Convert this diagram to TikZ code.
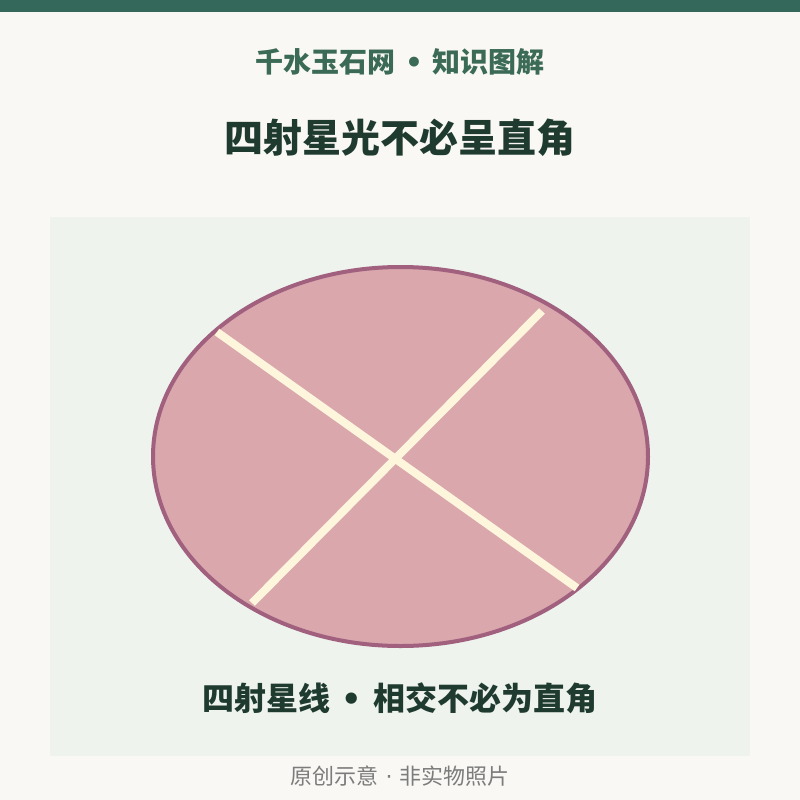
\documentclass[tikz,border=0pt]{standalone}
\usepackage{fontspec}
\setmainfont{Noto Sans CJK SC}
\newfontfamily\cjk{Noto Sans CJK SC}
\newfontfamily\latin{DejaVu Sans}
\newcommand{\sepdot}[1]{{\latin\ #1\ }}
\definecolor{pagebg}{HTML}{F9F8F4}
\definecolor{topbar}{HTML}{33685A}
\definecolor{panelbg}{HTML}{EEF3EE}
\definecolor{brandgreen}{HTML}{3B6A56}
\definecolor{inkdark}{HTML}{1F3A2F}
\definecolor{notegray}{HTML}{7C7C7C}
\definecolor{stonefill}{HTML}{D9A7AC}
\definecolor{stonerim}{HTML}{A0607E}
\definecolor{raycream}{HTML}{FDF5DC}
\begin{document}
\begin{tikzpicture}[x=1pt,y=-1pt,
    ray/.style={draw=raycream,line width=8pt}]
      \pgfmathsetmacro{\cx}{400.5}
      \pgfmathsetmacro{\cy}{456.5}

      \useasboundingbox[fill=pagebg] (0,0) rectangle (800,800);
      \fill[topbar] (0,0) rectangle (800,12);
      \fill[panelbg] (50,217) rectangle (750,756);

      \node[text=brandgreen,font=\cjk\bfseries\fontsize{28}{32}\selectfont] (brand) at (400,62) {千水玉石网\sepdot{•}知识图解};
      \node[text=inkdark,font=\cjk\bfseries\fontsize{39}{44}\selectfont] (heading) at (400,138) {四射星光不必呈直角};

      % the stone
      \draw[draw=stonerim,fill=stonefill,line width=4pt] (\cx,\cy) ellipse [x radius=247.5pt,y radius=189.5pt];

      % star rays, not at right angles
      \coordinate (rayA1) at (217,332);
      \coordinate (rayA2) at (577,588);
      \coordinate (rayB1) at (542,311);
      \coordinate (rayB2) at (252,603);
      \draw[ray] (rayA1) -- (rayA2);
      \draw[ray] (rayB1) -- (rayB2);

      \node[text=inkdark,font=\cjk\bfseries\fontsize{32}{38}\selectfont] (caption) at (400,698) {四射星线\sepdot{•}相交不必为直角};
      \node[text=notegray,font=\cjk\fontsize{22}{26}\selectfont] (footnote) at (400,776) {原创示意\sepdot{·}非实物照片};
    \end{tikzpicture}
\end{document}
